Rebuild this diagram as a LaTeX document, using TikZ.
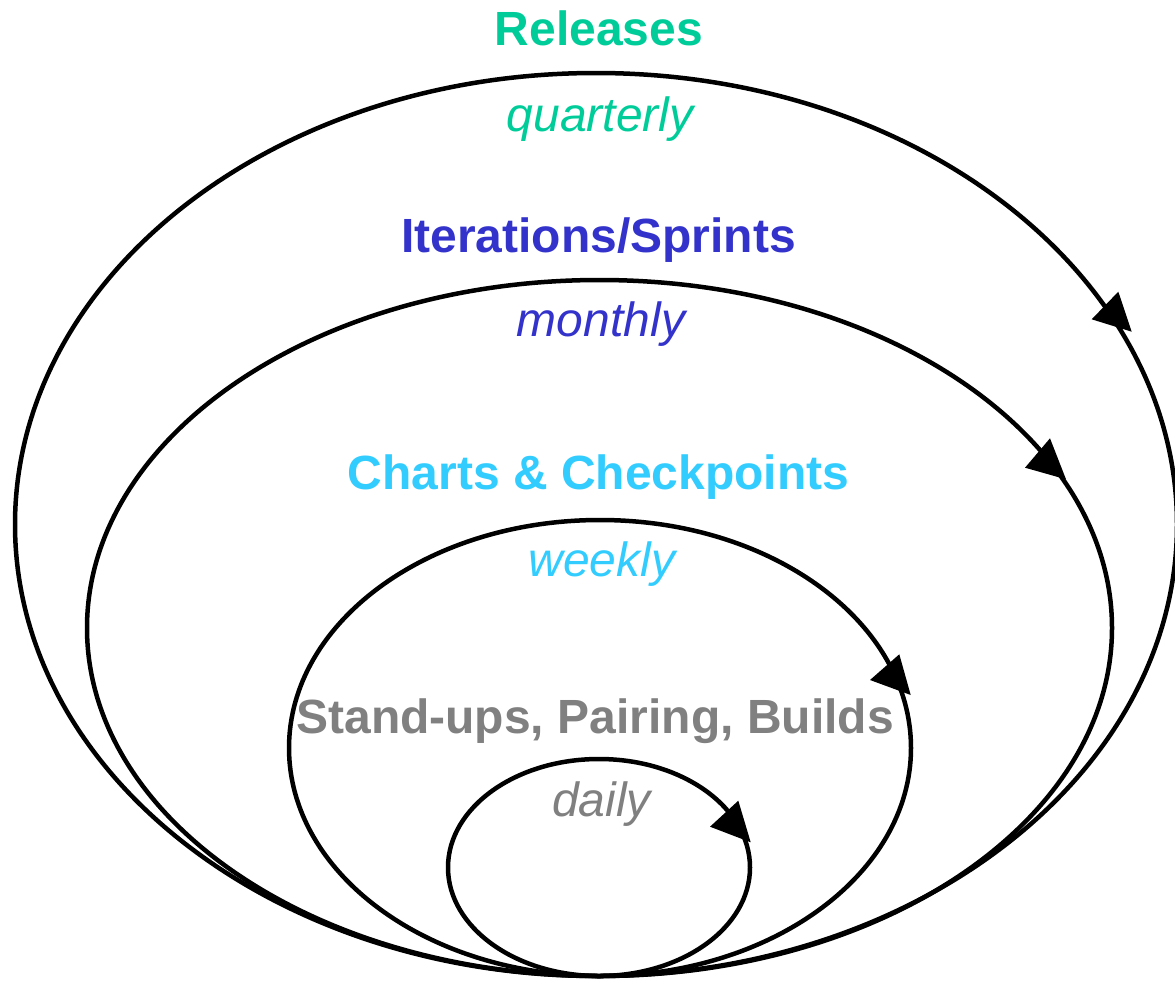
\documentclass[tikz,border=0pt]{standalone}
\usepackage{fontspec}
\setmainfont{Liberation Sans}
\definecolor{relc}{HTML}{00CC99}
\definecolor{itc}{HTML}{3333CC}
\definecolor{chc}{HTML}{33CCFF}
\definecolor{stc}{HTML}{808080}
\begin{document}
\begin{tikzpicture}[x=1pt,y=-1pt,
  ring/.style={line width=4.5pt, draw=black},
  head/.style={fill=black},
  lab/.style={anchor=base, inner sep=0pt, font=\fontsize{48}{58}\selectfont\bfseries},
  per/.style={anchor=base, inner sep=0pt, font=\fontsize{48}{58}\selectfont\itshape}]
\useasboundingbox (0,0) rectangle (1175,980);
% rings
\draw[ring] (596,524.5) ellipse [x radius=581, y radius=451.5];
\draw[ring] (599.5,628) ellipse [x radius=512.5, y radius=348];
\draw[ring] (600,748) ellipse [x radius=311, y radius=228];
\draw[ring] (599,867.5) ellipse [x radius=151, y radius=108.5];
% arrowheads
\fill[head] (1091.7,319.3) -- (1131.7,331.7) -- (1118.3,291.7) -- cycle;
\fill[head] (1025,467.7) -- (1066,479.3) -- (1050,438.3) -- cycle;
\fill[head] (870,680) -- (910.7,695) -- (899.3,654.3) -- cycle;
\fill[head] (710,826.7) -- (750.7,842.3) -- (738.3,800.7) -- cycle;
% labels
\node[lab, text=relc] (rel) at (599,45) {Releases};
\node[per, text=relc] (qua) at (600,131) {quarterly};
\node[lab, text=itc] (ite) at (598.5,252) {Iterations/Sprints};
\node[per, text=itc] (mon) at (601,336) {monthly};
\node[lab, text=chc] (cha) at (598.5,489) {Charts \& Checkpoints};
\node[per, text=chc] (wee) at (602,576) {weekly};
\node[lab, text=stc] (sta) at (595,733) {Stand-ups, Pairing, Builds};
\node[per, text=stc] (dai) at (601.5,816) {daily};
\end{tikzpicture}
\end{document}
